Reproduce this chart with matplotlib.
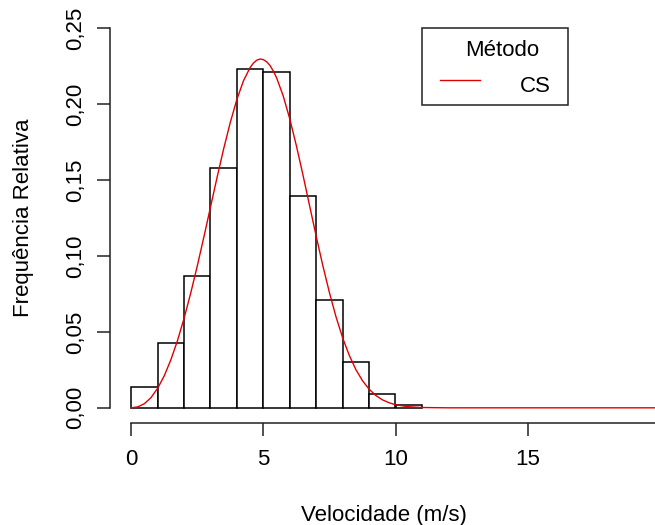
import matplotlib
matplotlib.use("Agg")
import matplotlib.pyplot as plt
from matplotlib.patches import Rectangle
from matplotlib.lines import Line2D

# ---- data ----
bin_left = [0, 1, 2, 3, 4, 5, 6, 7, 8, 9, 10]
rel_freq = [0.0138, 0.0430, 0.0868, 0.1582, 0.2228, 0.2213, 0.1397, 0.0713, 0.0299, 0.0090, 0.0018]

curve_x = [0, 0.25, 0.5, 0.75, 1, 1.25, 1.5, 1.75, 2, 2.25, 2.5, 2.75, 3, 3.25, 3.5, 3.75,
           4, 4.25, 4.5, 4.625, 4.75, 4.875, 5, 5.125, 5.25, 5.375, 5.5, 5.75, 6, 6.25,
           6.5, 6.75, 7, 7.25, 7.5, 7.75, 8, 8.25, 8.5, 8.75, 9, 9.25, 9.5, 9.75, 10,
           10.5, 11, 12, 20]
curve_y = [0, 0.0006, 0.0027, 0.0067, 0.0128, 0.0210, 0.0315, 0.0441, 0.0588, 0.0753,
           0.0933, 0.1124, 0.1321, 0.1517, 0.1706, 0.1879, 0.2031, 0.2154, 0.2241, 0.2270,
           0.2289, 0.2297, 0.2293, 0.2279, 0.2255, 0.2219, 0.2174, 0.2055, 0.1903, 0.1726,
           0.1533, 0.1331, 0.1130, 0.0937, 0.0759, 0.0599, 0.0461, 0.0346, 0.0252, 0.0179,
           0.0123, 0.0082, 0.0053, 0.0034, 0.0020, 0.0007, 0.0002, 0, 0]

x_ticks = [0, 5, 10, 15]
x_tick_labels = ["0", "5", "10", "15"]
y_ticks = [0.00, 0.05, 0.10, 0.15, 0.20, 0.25]
y_tick_labels = ["0,00", "0,05", "0,10", "0,15", "0,20", "0,25"]

legend_title = "Método"
legend_label = "CS"

# ---- figure ----
W, H = 655, 525
plt.rcParams['font.family'] = ['Liberation Sans', 'DejaVu Sans']
fig = plt.figure(figsize=(W / 100, H / 100), dpi=100)
fig.patch.set_facecolor('white')

def fx(px):
    return px / W

def fy(py):
    return 1 - py / H

L, R, T, B = 110, 681, 13, 423
ax = fig.add_axes([fx(L), fy(B), (R - L) / W, (B - T) / H])
ax.set_xlim(-0.8, 20.8)
ax.set_ylim(-0.01, 0.26)

FS = 16
red = '#E00000'

ax.bar(bin_left, rel_freq, width=1, align='edge', facecolor='white',
       edgecolor='black', linewidth=1.1, zorder=2)
ax.plot(curve_x, curve_y, color=red, linewidth=1.0, zorder=3, clip_on=False)

for s in ['top', 'right']:
    ax.spines[s].set_visible(False)
ax.spines['bottom'].set_bounds(0, 20)
ax.spines['left'].set_bounds(0, 0.25)
for s in ['bottom', 'left']:
    ax.spines[s].set_linewidth(1.1)
    ax.spines[s].set_color('#222222')

ax.set_xticks(x_ticks)
ax.set_xticklabels(x_tick_labels, fontsize=FS)
ax.set_yticks(y_ticks)
ax.set_yticklabels(y_tick_labels, fontsize=FS, rotation=90, va='center')
ax.tick_params(axis='x', length=9.4, width=1.1, pad=9.0, color='#222222')
ax.tick_params(axis='y', length=9.4, width=1.1, pad=8.0, color='#222222')

ax.set_xlabel("Velocidade (m/s)", fontsize=FS)
ax.xaxis.label.set_va('center')
ax.xaxis.set_label_coords(fx(384), fy(515), transform=fig.transFigure)
ax.set_ylabel("Frequência Relativa", fontsize=FS)
ax.yaxis.label.set_va('center')
ax.yaxis.set_label_coords(fx(23.5), fy(218), transform=fig.transFigure)

# ---- legend (R style box) ----
fig.add_artist(Rectangle((fx(422), fy(105)), (568 - 422) / W, (105 - 28) / H,
                         transform=fig.transFigure, facecolor='white',
                         edgecolor='#222222', linewidth=1.1, zorder=5))
fig.text(fx(502), fy(56.5), legend_title, fontsize=FS, ha='center', va='baseline', zorder=6)
fig.add_artist(Line2D([fx(440), fx(480)], [fy(79.5), fy(79.5)], color=red,
                      linewidth=1.0, transform=fig.transFigure, zorder=6))
fig.text(fx(520), fy(91.5), legend_label, fontsize=FS, ha='left', va='baseline', zorder=6)

fig.savefig("out.png", dpi=100, facecolor='white')
